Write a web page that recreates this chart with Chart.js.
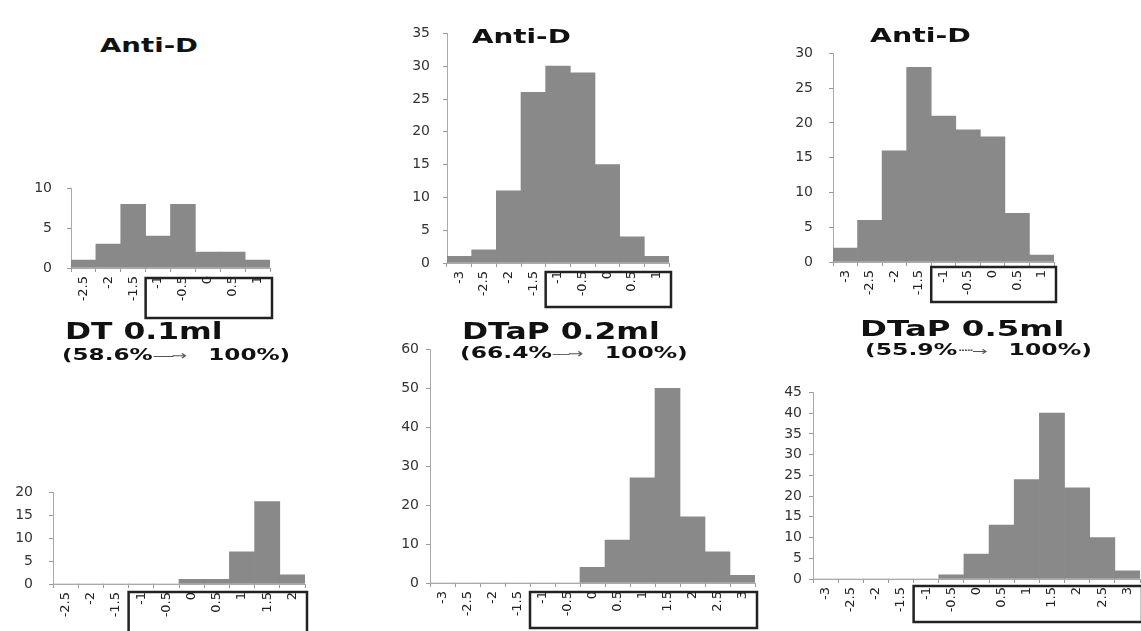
<!DOCTYPE html>
<html lang="en">
<head>
  <meta charset="UTF-8" />
  <title>Anti-D histograms</title>
  <script src="https://cdn.jsdelivr.net/npm/chart.js"></script>
  <style>
    html, body { margin: 0; padding: 0; background: #fff; }
    body { width: 1141px; height: 631px; position: relative; overflow: hidden; font-family: "DejaVu Sans", sans-serif; }
    canvas { position: absolute; }
    .ttl { position: absolute; white-space: nowrap; font-weight: bold; color: #111; line-height: 1; transform-origin: 0 0; z-index: 2; }
    .arr { font-weight: normal; color: #555; font-size: 0.8em; letter-spacing: -2px; }
  </style>
</head>
<body>
  <div class="ttl" style="left:100px;top:35px;font-size:20px" data-w="98">Anti-D</div>
  <div class="ttl" style="left:472px;top:27px;font-size:19px" data-w="98">Anti-D</div>
  <div class="ttl" style="left:870px;top:26px;font-size:19px" data-w="100">Anti-D</div>

  <div class="ttl" style="left:65px;top:320px;font-size:23px" data-w="157">DT 0.1ml</div>
  <div class="ttl" style="left:62px;top:347px;font-size:16px" data-w="228">(58.6%<span class="arr">-----→</span>&nbsp;&nbsp;&nbsp;100%)</div>
  <div class="ttl" style="left:462px;top:320px;font-size:23px" data-w="198">DTaP 0.2ml</div>
  <div class="ttl" style="left:460px;top:345px;font-size:16px" data-w="228">(66.4%<span class="arr">—→</span>&nbsp;&nbsp;&nbsp;100%)</div>
  <div class="ttl" style="left:860px;top:318px;font-size:22px" data-w="205">DTaP 0.5ml</div>
  <div class="ttl" style="left:865px;top:343px;font-size:15px" data-w="227">(55.9%<span class="arr">·····→</span>&nbsp;&nbsp;&nbsp;100%)</div>

<script>
// bin labels (lower edge of each 0.5 bin) and counts per panel
const topLabelsShort = ['-2.5', '-2', '-1.5', '-1', '-0.5', '0', '0.5', '1'];
const topLabels = ['-3', '-2.5', '-2', '-1.5', '-1', '-0.5', '0', '0.5', '1'];
const btmLabelsShort = ['-2.5', '-2', '-1.5', '-1', '-0.5', '0', '0.5', '1', '1.5', '2'];
const btmLabels = ['-3', '-2.5', '-2', '-1.5', '-1', '-0.5', '0', '0.5', '1', '1.5', '2', '2.5', '3'];

const dt01Before = [1, 3, 8, 4, 8, 2, 2, 1];
const dtap02Before = [1, 2, 11, 26, 30, 29, 15, 4, 1];
const dtap05Before = [2, 6, 16, 28, 21, 19, 18, 7, 1];
const dt01After = [0, 0, 0, 0, 0, 1, 1, 7, 18, 2];
const dtap02After = [0, 0, 0, 0, 0, 0, 4, 11, 27, 50, 17, 8, 2];
const dtap05After = [0, 0, 0, 0, 0, 1, 6, 13, 24, 40, 22, 10, 2];

const yMaxes = [10, 35, 30, 20, 60, 45];
const ySteps = [5, 5, 5, 5, 10, 5];

const W = 45, R = 10, T = 10, H = 60;

const labelBox = {
  id: 'labelBox',
  afterDraw(chart, args, opts) {
    const x = chart.scales.x, area = chart.chartArea, ctx = chart.ctx;
    const n = chart.data.labels.length;
    const half = (x.getPixelForValue(1) - x.getPixelForValue(0)) / 2;
    const left = x.getPixelForValue(chart.data.labels.indexOf('-1')) - half;
    const right = x.getPixelForValue(n - 1) + half + 2;
    ctx.save();
    ctx.strokeStyle = '#222';
    ctx.lineWidth = 2.5;
    ctx.strokeRect(left, area.bottom + opts.gap, right - left, opts.height);
    ctx.restore();
  }
};

function panel(labels, counts, yMax, yStep, area, yPad, box) {
  const c = document.createElement('canvas');
  c.width = area.r - area.l + W + R;
  c.height = area.b - area.t + T + H;
  c.style.left = (area.l - W) + 'px';
  c.style.top = (area.t - T) + 'px';
  document.body.appendChild(c);
  new Chart(c, {
    type: 'bar',
    data: { labels, datasets: [{ data: counts, backgroundColor: '#898989', borderWidth: 0, barPercentage: 1, categoryPercentage: 1 }] },
    options: {
      responsive: false, animation: false, devicePixelRatio: 1,
      layout: { padding: { top: T, right: R, left: 0, bottom: 0 } },
      plugins: { legend: { display: false }, tooltip: { enabled: false }, labelBox: box },
      scales: {
        x: {
          grid: { drawOnChartArea: false, drawTicks: true, tickLength: 4, color: '#999' },
          border: { color: '#aaa', dash: [2, 2] },
          ticks: { minRotation: 90, maxRotation: 90, autoSkip: false, padding: 4, color: '#222', font: { size: 13 } },
          afterFit: s => { s.height = H; }
        },
        y: {
          min: 0, max: yMax,
          grid: { drawOnChartArea: false, drawTicks: true, tickLength: 4, color: '#999' },
          border: { color: '#aaa', dash: [2, 2] },
          ticks: { stepSize: yStep, padding: yPad, color: '#333', font: { size: 14 } },
          afterFit: s => { s.width = W; }
        }
      }
    },
    plugins: [labelBox]
  });
}

Chart.defaults.font.family = '"DejaVu Sans", sans-serif';

panel(topLabelsShort, dt01Before, yMaxes[0], ySteps[0], { l: 71, r: 270, t: 175, b: 268 }, 15, { gap: 10, height: 40 });
panel(topLabels, dtap02Before, yMaxes[1], ySteps[1], { l: 447, r: 669, t: 22, b: 263 }, 13, { gap: 9, height: 35 });
panel(topLabels, dtap05Before, yMaxes[2], ySteps[2], { l: 833, r: 1054, t: 39, b: 262 }, 16, { gap: 5, height: 35 });
panel(btmLabelsShort, dt01After, yMaxes[3], ySteps[3], { l: 53, r: 305, t: 478, b: 584 }, 16, { gap: 8, height: 50 });
panel(btmLabels, dtap02After, yMaxes[4], ySteps[4], { l: 430, r: 755, t: 344, b: 583 }, 7, { gap: 9, height: 36 });
panel(btmLabels, dtap05After, yMaxes[5], ySteps[5], { l: 813, r: 1140, t: 387, b: 579 }, 7, { gap: 7, height: 36 });

// stretch the heavy titles to the width they have in the figure
document.querySelectorAll('.ttl').forEach(el => {
  el.style.transform = `scaleX(${(+el.dataset.w / el.offsetWidth).toFixed(3)})`;
});
</script>
</body>
</html>
